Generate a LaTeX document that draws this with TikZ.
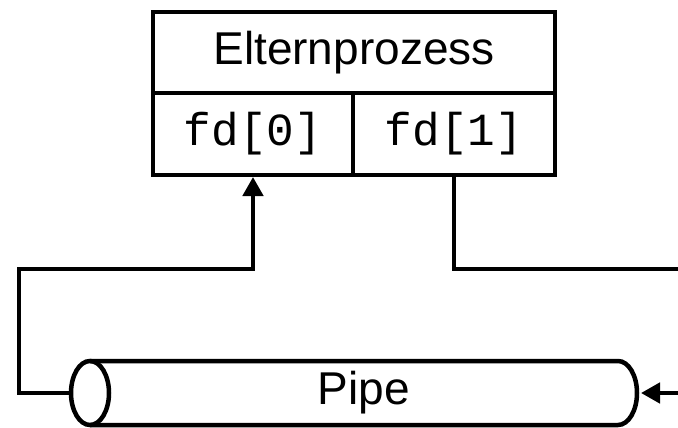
\documentclass[tikz,border=0pt]{standalone}
\usepackage{fontspec}
\setmainfont{Liberation Sans}
\newfontfamily\codefont{Liberation Mono}
\usetikzlibrary{arrows.meta}

\begin{document}
\begin{tikzpicture}[x=1pt,y=-1pt,
  cell/.style={draw,line width=4.5pt,inner sep=0pt,outer sep=0pt,
    font=\fontsize{46}{55}\selectfont},
  code/.style={cell,font=\codefont\fontsize{46}{55}\selectfont},
  wire/.style={line width=4.5pt},
  tip/.style={wire,-{Triangle[length=19pt,width=20pt]}}]
\useasboundingbox (0,0) rectangle (678,428);

% process box with its two descriptors
\node[cell,minimum width=402pt,minimum height=81pt] (parent) at (354,52.5) {Elternprozess};
\node[code,minimum width=200pt,minimum height=82pt] (fd0) at (253,134) {fd[0]};
\node[code,minimum width=202pt,minimum height=82pt] (fd1) at (454,134) {fd[1]};

% the pipe as a lying cylinder
\draw[wire] (90,393) ellipse [x radius=19, y radius=32];
\draw[wire] (90,361) -- (618,361) arc[start angle=-90,end angle=90,x radius=19,y radius=32]
  -- (90,425);
\node[font=\fontsize{46}{55}\selectfont] (pipe) at (364,393) {Pipe};
\coordinate (pipeL) at (71,393);
\coordinate (pipeR) at (641,393);

% connectors
\coordinate (inR) at (690,393);
\coordinate (outR) at (690,269);
\draw[tip,shorten >=2pt] (pipeL) -| (19,269) -| (fd0.south);
\draw[wire] (fd1.south) |- (outR);
\draw[tip] (inR) -- (pipeR);
\end{tikzpicture}
\end{document}
